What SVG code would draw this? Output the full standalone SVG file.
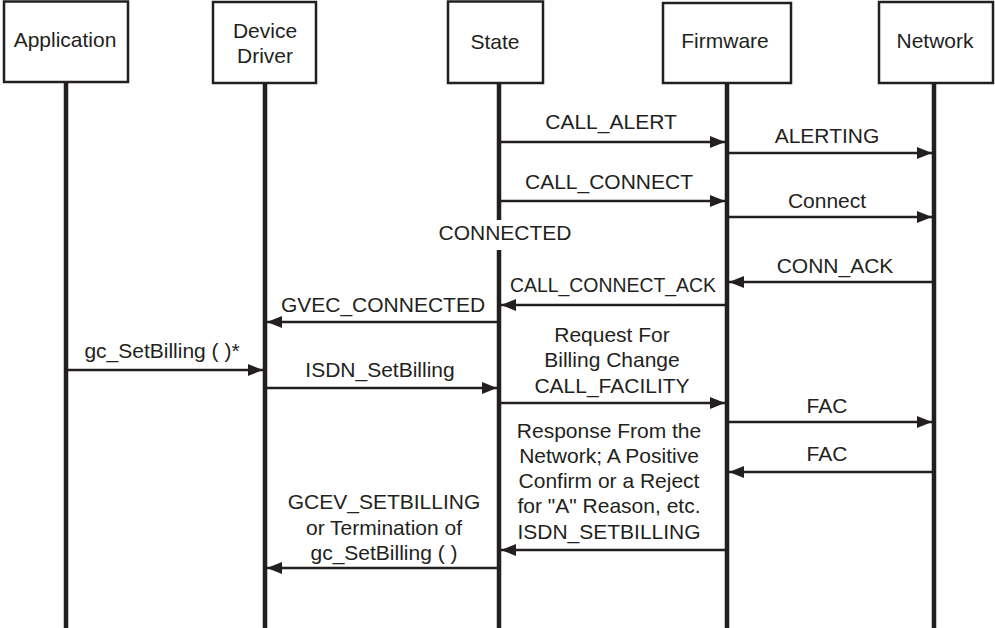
<svg xmlns="http://www.w3.org/2000/svg" width="995" height="628" viewBox="0 0 995 628">
<style>
.box{fill:#fff;stroke:#231f20;stroke-width:2.5}
.life{stroke:#231f20;stroke-width:4.5;fill:none}
.msg{stroke:#231f20;stroke-width:2.6;fill:none;marker-end:url(#ah)}
text{font-family:"Liberation Sans",Arial,Helvetica,sans-serif;font-size:21px;fill:#231f20;text-anchor:middle}
</style>
<defs>
<marker id="ah" markerUnits="userSpaceOnUse" markerWidth="15" markerHeight="12" refX="15" refY="6" orient="auto">
<path d="M0,0 L15,6 L0,12 z" fill="#231f20"/>
</marker>
</defs>
<rect width="995" height="628" fill="#fff"/>
<g id="application">
<line class="life" x1="66" y1="82" x2="66" y2="628"/>
<rect class="box" x="4" y="1.5" width="124" height="80.5"/>
<text x="65" y="47">Application</text>
</g>
<g id="device-driver">
<line class="life" x1="265" y1="83" x2="265" y2="628"/>
<rect class="box" x="213" y="2" width="103" height="81"/>
<text x="265" y="38">Device</text>
<text x="265" y="63">Driver</text>
</g>
<g id="state">
<line class="life" x1="499" y1="83" x2="499" y2="220"/>
<line class="life" x1="499" y1="250" x2="499" y2="628"/>
<rect class="box" x="448" y="1.5" width="95" height="81.5"/>
<text x="495" y="49">State</text>
</g>
<g id="firmware">
<line class="life" x1="727" y1="83" x2="727" y2="628"/>
<rect class="box" x="663" y="3" width="128" height="80"/>
<text x="725" y="48">Firmware</text>
</g>
<g id="network">
<line class="life" x1="934" y1="83" x2="934" y2="628"/>
<rect class="box" x="879" y="2" width="114" height="81"/>
<text x="935" y="48">Network</text>
</g>
<g id="connectors">
<line class="msg" x1="501" y1="142" x2="725" y2="142"/>
<line class="msg" x1="729" y1="153" x2="932" y2="153"/>
<line class="msg" x1="501" y1="201" x2="725" y2="201"/>
<line class="msg" x1="729" y1="217" x2="932" y2="217"/>
<line class="msg" x1="932" y1="282" x2="729" y2="282"/>
<line class="msg" x1="725" y1="305" x2="501" y2="305"/>
<line class="msg" x1="497" y1="322" x2="267" y2="322"/>
<line class="msg" x1="68" y1="370" x2="263" y2="370"/>
<line class="msg" x1="267" y1="388" x2="497" y2="388"/>
<line class="msg" x1="501" y1="403" x2="725" y2="403"/>
<line class="msg" x1="729" y1="422" x2="932" y2="422"/>
<line class="msg" x1="932" y1="472" x2="729" y2="472"/>
<line class="msg" x1="725" y1="550" x2="501" y2="550"/>
<line class="msg" x1="497" y1="568" x2="267" y2="568"/>
</g>
<g id="labels">
<text x="611" y="129">CALL_ALERT</text>
<text x="827" y="143">ALERTING</text>
<text x="609" y="189">CALL_CONNECT</text>
<text x="827" y="208">Connect</text>
<text x="505" y="240">CONNECTED</text>
<text x="835" y="273">CONN_ACK</text>
<text x="613" y="292" textLength="206" lengthAdjust="spacingAndGlyphs">CALL_CONNECT_ACK</text>
<text x="383" y="312">GVEC_CONNECTED</text>
<text x="162" y="358">gc_SetBilling ( )*</text>
<text x="380" y="377">ISDN_SetBilling</text>
<text x="612" y="342">Request For</text>
<text x="612" y="367">Billing Change</text>
<text x="612" y="393">CALL_FACILITY</text>
<text x="827" y="413">FAC</text>
<text x="827" y="461">FAC</text>
<text x="609" y="438">Response From the</text>
<text x="609" y="463">Network; A Positive</text>
<text x="609" y="488">Confirm or a Reject</text>
<text x="609" y="513">for "A" Reason, etc.</text>
<text x="609" y="539">ISDN_SETBILLING</text>
<text x="384" y="509">GCEV_SETBILLING</text>
<text x="384" y="535">or Termination of</text>
<text x="384" y="560">gc_SetBilling ( )</text>
</g>
</svg>
